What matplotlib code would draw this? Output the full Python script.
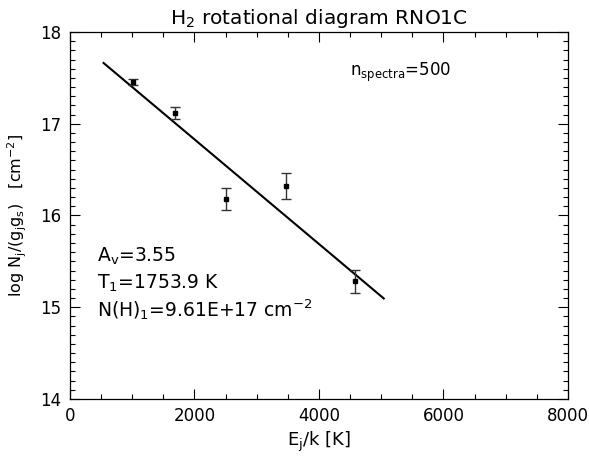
import numpy as np
import matplotlib
matplotlib.use('Agg')
import matplotlib.pyplot as plt
from matplotlib.ticker import MultipleLocator

# H2 rotational diagram data
energy = [1015, 1682, 2504, 3474, 4586]          # E_j/k [K]
log_n = [17.455, 17.12, 16.18, 16.325, 15.283]   # log N_j/(g_j g_s)
log_err = [0.035, 0.065, 0.115, 0.14, 0.125]

# fit result
temp = 1753.9
intercept = 17.97
fit_x = np.array([540, 5040])
fit_y = intercept - fit_x / temp

plt.rcParams['font.family'] = 'DejaVu Sans'
plt.rcParams['mathtext.fontset'] = 'dejavusans'
plt.rcParams['mathtext.default'] = 'regular'

fig = plt.figure(figsize=(5.89, 4.57), dpi=100)
ax = fig.add_axes([0.1188, 0.1269, 0.8455, 0.8031])

ax.plot(fit_x, fit_y, color='k', lw=1.5)
ax.errorbar(energy, log_n, yerr=log_err, fmt='s', color='k', ms=3.5,
            ecolor='#333333', elinewidth=1, capsize=3.5, capthick=1)

ax.set_xlim(0, 8000)
ax.set_ylim(14, 18)
ax.xaxis.set_major_locator(MultipleLocator(2000))
ax.xaxis.set_minor_locator(MultipleLocator(500))
ax.yaxis.set_major_locator(MultipleLocator(1))
ax.yaxis.set_minor_locator(MultipleLocator(0.1))
ax.tick_params(which='both', direction='in', top=True, right=True,
               labelsize=12, width=0.8, pad=6)
ax.tick_params(which='major', length=7)
ax.tick_params(which='minor', length=3.5)
for s in ax.spines.values():
    s.set_linewidth(0.9)

ax.set_title('H$_2$ rotational diagram RNO1C', fontsize=14.5, pad=6)
ax.set_xlabel('E$_j$/k [K]', fontsize=13, labelpad=3)
ax.set_ylabel('log N$_j$/(g$_j$g$_s$)   [cm$^{-2}$]', fontsize=11.5, labelpad=8)

ax.text(4500, 17.56, r'n$_{spectra}$=500', fontsize=12, va='center')
ax.text(434, 15.55, 'A$_v$=3.55', fontsize=13.5, va='center')
ax.text(434, 15.265, 'T$_1$=1753.9 K', fontsize=13.5, va='center')
ax.text(434, 14.975, 'N(H)$_1$=9.61E+17 cm$^{-2}$', fontsize=13.5, va='center')

fig.savefig('out.png', dpi=100)
